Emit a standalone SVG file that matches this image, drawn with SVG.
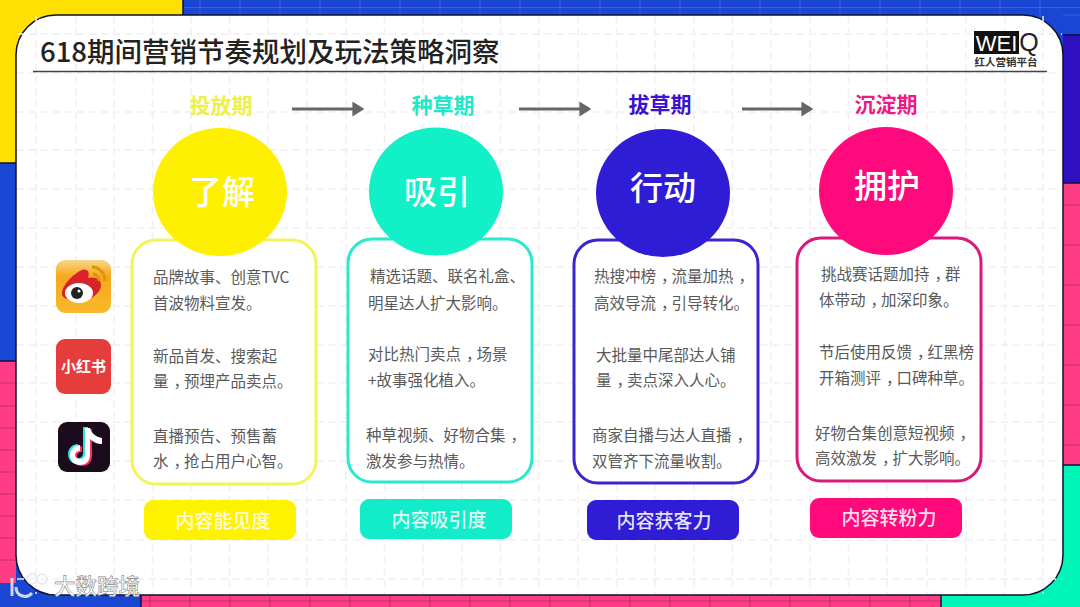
<svg xmlns="http://www.w3.org/2000/svg" width="1080" height="607" viewBox="0 0 1080 607">
<style>
text{font-family:"Noto Sans CJK SC","Noto Sans",sans-serif}
.b{font-size:15.5px;fill:#595959}
.k{letter-spacing:-5px}
.h{font-size:21px;font-weight:700;text-anchor:middle}
.c{font-size:33px;fill:#fff;text-anchor:middle;font-weight:500}
.p{font-size:19px;fill:#fff;fill-opacity:.88;text-anchor:middle;font-weight:500}
.card{fill:#fff;stroke-width:3}
.g{stroke:#f0f0f4;stroke-width:1.5;stroke-dasharray:7 5;fill:none}
.a{stroke:#666;stroke-width:3;fill:none;marker-end:url(#ah)}
.bgg{stroke:#000;stroke-opacity:.22;stroke-width:1;fill:none}
.wbg{stroke:#fff;stroke-opacity:.14;stroke-width:1;fill:none}
</style>
<defs>
<marker id="ah" markerWidth="4" markerHeight="5" refX="3.2" refY="2.5" orient="auto"><path d="M0 0L4 2.5L0 5Z" fill="#666"/></marker>
<linearGradient id="wb" x1="0" y1="0" x2="0" y2="1"><stop offset="0" stop-color="#f6d98a"/><stop offset=".3" stop-color="#f7a81c"/><stop offset="1" stop-color="#f7b92a"/></linearGradient>
</defs>
<g id="background">
<rect width="1080" height="607" fill="#1a46d4"/>
<rect x="0" y="0" width="183" height="163" fill="#ffe000"/>
<rect x="0" y="163" width="16" height="198" fill="#1a46d4"/>
<rect x="0" y="361" width="16" height="222" fill="#ff3d85"/>
<rect x="0" y="583" width="141" height="24" fill="#1a46d4"/>
<rect x="141" y="595" width="800" height="12" fill="#ff3d85"/>
<rect x="941" y="465" width="139" height="142" fill="#00f5b8"/>
<rect x="1063" y="35" width="17" height="148" fill="#2f10c0"/>
<rect x="1063" y="183" width="17" height="282" fill="#ff3d85"/>
<path class="wbg" d="M183 7.500H1080M200 0V15M240 0V15M280 0V15M320 0V15M360 0V15M400 0V15M440 0V15M480 0V15M520 0V15M560 0V15M600 0V15M640 0V15M680 0V15M720 0V15M760 0V15M800 0V15M840 0V15M880 0V15M920 0V15M960 0V15M1000 0V15M1040 0V35M1063 15H1080"/>
<path class="bgg" d="M0 383H16M0 406H16M0 428H16M0 450H16M0 472H16M0 494H16M0 516H16M0 538H16M0 560H16M150 595V607M190 595V607M230 595V607M270 595V607M310 595V607M350 595V607M390 595V607M430 595V607M470 595V607M510 595V607M550 595V607M590 595V607M630 595V607M670 595V607M710 595V607M750 595V607M790 595V607M830 595V607M870 595V607M910 595V607M141 601H941M1063 205H1080M1063 245H1080M1063 285H1080M1063 325H1080M1063 365H1080M1063 405H1080M1063 445H1080"/>
<path d="M183 0V15M0 163H16M0 361H16M141 595V607M941 595V607M1063 35H1080M1063 183H1080M1063 465H1080" stroke="#101040" stroke-width="1.500"/>
<rect x="16" y="15" width="1047" height="580" rx="40" fill="#fff" stroke="#10102a" stroke-width="1.500"/>
<path class="g" d="M36 16V594M76 16V594M114 16V594M152.500 16V594M191 16V594M229.500 16V594M268 16V594M307 16V594M346 16V594M384.500 16V594M423 16V594M462 16V594M500.500 16V594M539 16V594M578 16V594M616.500 16V594M655 16V594M694 16V594M732.500 16V594M771 16V594M810 16V594M848.500 16V594M887 16V594M927 16V594M966 16V594M1005 16V594M1043 16V594M17 34H1062M17 73H1062M17 112H1062M17 150H1062M17 189H1062M17 228H1062M17 267H1062M17 306H1062M17 345H1062M17 383H1062M17 422H1062M17 461H1062M17 500H1062M17 540H1062M17 579H1062"/>
</g>
<g id="title">
<text x="40" y="62" font-size="27.500" font-weight="500" fill="#222">618期间营销节奏规划及玩法策略洞察</text>
<path d="M33 71.500H1047" stroke="#444" stroke-width="1.500"/>
</g>
<g id="logo">
<rect x="974" y="31" width="45" height="23" fill="#111"/>
<text x="996.500" y="51" font-size="22" fill="#fff" text-anchor="middle" style="font-family:'Liberation Sans',sans-serif">WEI</text>
<text x="1029" y="51" font-size="25" fill="#222" text-anchor="middle" style="font-family:'Liberation Sans',sans-serif">Q</text>
<text x="1006" y="66" font-size="10.500" font-weight="700" fill="#333" text-anchor="middle">红人营销平台</text>
</g>
<g id="connectors">
<path class="a" d="M292 109H362"/>
<path class="a" d="M519 109H589"/>
<path class="a" d="M742 109H811"/>
</g>
<g id="icons">
<g id="icon-weibo">
<rect x="56" y="260" width="55" height="53" rx="9" fill="url(#wb)"/>
<path d="M62 294c0-9 11-20 20-24 6-2 8 3 6 8 7-2 13 1 13 7 0 9-12 16-22 16-10 0-17-3-17-7z" fill="#d8232a"/>
<ellipse cx="79" cy="293" rx="14" ry="10" fill="#fff"/>
<circle cx="77" cy="293" r="6" fill="#222"/>
<circle cx="79" cy="291" r="1.500" fill="#fff"/>
<path d="M92 267c7 0 13 6 13 14M93 274c3 0 6 3 6 7" stroke="#e0920f" stroke-width="3" fill="none"/>
</g>
<g id="icon-xiaohongshu">
<rect x="56" y="339" width="55" height="55" rx="9" fill="#e53c3c"/>
<text x="83.500" y="372" font-size="15" font-weight="700" fill="#fff" text-anchor="middle">小红书</text>
</g>
<g id="icon-douyin">
<rect x="58" y="422" width="52" height="50" rx="9" fill="#1c0b1c"/>
<path d="M90 428v27c0 7-5 10-10 10-6 0-10-4-10-10s5-10 10-10v6c-3 0-5 2-5 4s2 4 5 4 5-2 5-5v-26z" fill="#ff2d55" transform="translate(2 1)"/>
<path d="M90 428v27c0 7-5 10-10 10-6 0-10-4-10-10s5-10 10-10v6c-3 0-5 2-5 4s2 4 5 4 5-2 5-5v-26z" fill="#35e0e0" transform="translate(-2 -1)"/>
<path d="M90 428v27c0 7-5 10-10 10-6 0-10-4-10-10s5-10 10-10v6c-3 0-5 2-5 4s2 4 5 4 5-2 5-5v-26z" fill="#fff"/>
<path d="M90 428c1 5 6 9 12 10v6c-5 0-9-2-12-5z" fill="#fff"/>
</g>
</g>
<g id="node-liaojie">
<text class="h" x="221" y="113" fill="#eef04a">投放期</text>
<rect class="card" x="132" y="240" width="184" height="244" rx="24" stroke="#f4f45a"/>
<ellipse cx="220" cy="192" rx="67" ry="64" fill="#ffef00"/>
<text class="c" x="222" y="204">了解</text>
<text class="b" x="153" y="283">品牌故事、创意TVC</text>
<text class="b" x="153" y="309">首波物料宣发。</text>
<text class="b" x="153" y="362">新品首发、搜索起</text>
<text class="b" x="153" y="387">量<tspan class="k" dx="5">，</tspan>预埋产品卖点。</text>
<text class="b" x="153" y="442">直播预告、预售蓄</text>
<text class="b" x="153" y="467">水<tspan class="k" dx="5">，</tspan>抢占用户心智。</text>
<rect x="144" y="500" width="152" height="40" rx="9" fill="#fff200"/>
<text class="p" x="223" y="528">内容能见度</text>
</g>
<g id="node-xiyin">
<text class="h" x="443" y="113" fill="#1ee8c8">种草期</text>
<rect class="card" x="348" y="239" width="184" height="243" rx="24" stroke="#2ce8cc"/>
<ellipse cx="436" cy="191.500" rx="67" ry="64" fill="#12f0c8"/>
<text class="c" x="437" y="204">吸引</text>
<text class="b" x="370" y="282">精选话题、联名礼盒、</text>
<text class="b" x="368" y="309">明星达人扩大影响。</text>
<text class="b" x="368" y="360">对比热门卖点<tspan class="k" dx="5">，</tspan>场景</text>
<text class="b" x="368" y="386">+故事强化植入。</text>
<text class="b" x="366" y="441">种草视频、好物合集<tspan class="k" dx="5">，</tspan></text>
<text class="b" x="366" y="467">激发参与热情。</text>
<rect x="360" y="499" width="152" height="40" rx="9" fill="#12ecc8"/>
<text class="p" x="439" y="527">内容吸引度</text>
</g>
<g id="node-xingdong">
<text class="h" x="660" y="112" fill="#3a12d0">拔草期</text>
<rect class="card" x="574" y="240" width="184" height="243" rx="24" stroke="#3a26d0"/>
<ellipse cx="663" cy="193" rx="67" ry="64" fill="#2f1dd6"/>
<text class="c" x="663" y="200">行动</text>
<text class="b" x="594" y="282">热搜冲榜<tspan class="k" dx="5">，</tspan>流量加热<tspan class="k" dx="5">，</tspan></text>
<text class="b" x="594" y="309">高效导流<tspan class="k" dx="5">，</tspan>引导转化。</text>
<text class="b" x="596" y="361">大批量中尾部达人铺</text>
<text class="b" x="596" y="386">量<tspan class="k" dx="5">，</tspan>卖点深入人心。</text>
<text class="b" x="592" y="441">商家自播与达人直播<tspan class="k" dx="5">，</tspan></text>
<text class="b" x="592" y="467">双管齐下流量收割。</text>
<rect x="587" y="500" width="152" height="40" rx="9" fill="#2f1dd6"/>
<text class="p" x="664" y="528">内容获客力</text>
</g>
<g id="node-yonghu">
<text class="h" x="886" y="112" fill="#ee1a84">沉淀期</text>
<rect class="card" x="797" y="238" width="184" height="243" rx="24" stroke="#d81a7c"/>
<ellipse cx="886" cy="191" rx="67" ry="64" fill="#ff0a7c"/>
<text class="c" x="887" y="198">拥护</text>
<text class="b" x="821" y="280">挑战赛话题加持<tspan class="k" dx="5">，</tspan>群</text>
<text class="b" x="819" y="306">体带动<tspan class="k" dx="5">，</tspan>加深印象。</text>
<text class="b" x="819" y="358">节后使用反馈<tspan class="k" dx="5">，</tspan>红黑榜</text>
<text class="b" x="819" y="384">开箱测评<tspan class="k" dx="5">，</tspan>口碑种草。</text>
<text class="b" x="815" y="439">好物合集创意短视频<tspan class="k" dx="5">，</tspan></text>
<text class="b" x="815" y="464">高效激发<tspan class="k" dx="5">，</tspan>扩大影响。</text>
<rect x="810" y="498" width="152" height="40" rx="9" fill="#ff0a7c"/>
<text class="p" x="889" y="525">内容转粉力</text>
</g>
<g id="watermark">
<path d="M12 578v18M16 587a9 9 0 0 0 16 6" stroke="#cfd8ea" stroke-width="3" fill="none"/>
<circle cx="32" cy="579" r="5" stroke="#e8e8e8" stroke-width="1.500" fill="none"/>
<circle cx="42" cy="579" r="5" stroke="#e8e8e8" stroke-width="1.500" fill="none"/>
<text x="54" y="594" font-size="21.500" font-weight="500" fill="#fff" stroke="#888" stroke-width=".6">大数跨境</text>
</g>
</svg>
